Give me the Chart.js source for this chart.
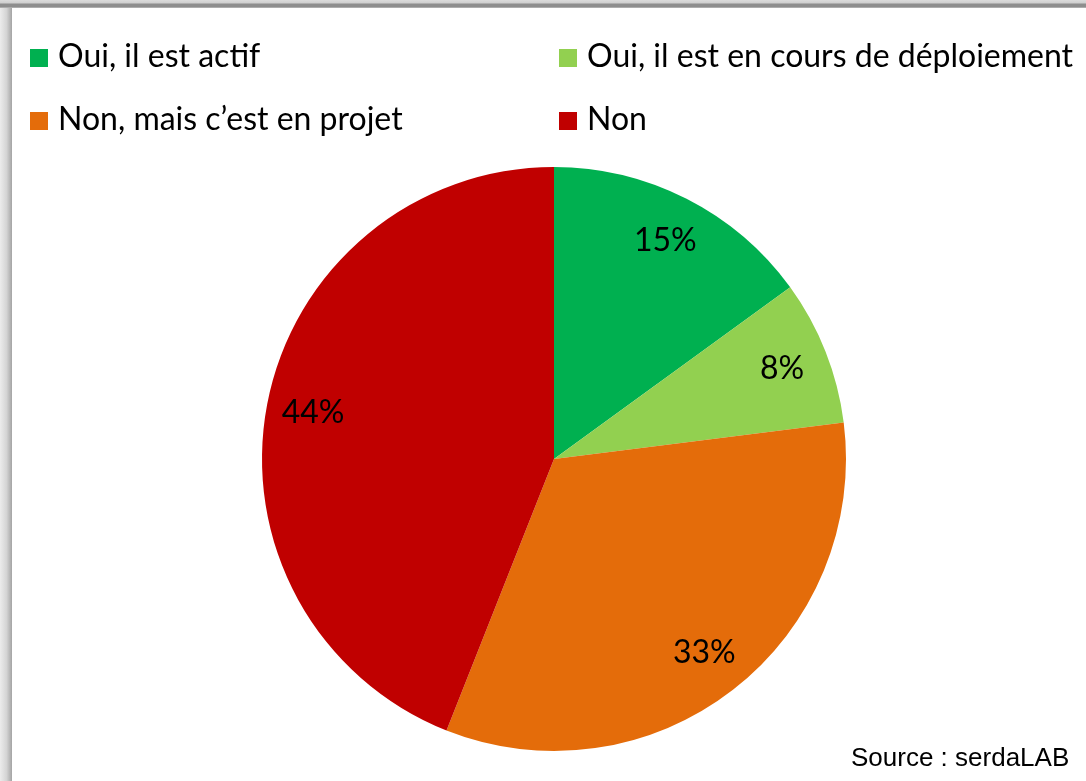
<!DOCTYPE html>
<html>
<head>
<meta charset="utf-8">
<script src="https://cdn.jsdelivr.net/npm/chart.js@4.4.1/dist/chart.umd.min.js"></script>
<style>
    html, body {
        margin: 0;
        padding: 0;
        width: 1086px;
        height: 781px;
        overflow: hidden;
        background: #fff;
    }
    #shadow-left {
        position: absolute;
        left: 0; top: 0;
        width: 12px; height: 781px;
        background: linear-gradient(to right, #ececec, #d4d4d4 55%, #a4a4a4);
    }
    #shadow-top {
        position: absolute;
        left: 0; top: 0;
        width: 1086px; height: 8px;
        background: linear-gradient(to bottom, #dcdcdc 0, #cfcfcf 3px, #8e8e8e 4px, #8e8e8e 7px, #cccccc 8px);
    }
    #chart-wrap {
        position: absolute;
        left: 0; top: 0;
        width: 1086px; height: 781px;
    }
    #legend {
        position: absolute;
        left: 0; top: 0;
        font-family: Lato, "Open Sans", sans-serif;
        font-size: 32px;
        color: #000;
    }
    .legend-item {
        position: absolute;
        white-space: nowrap;
        line-height: 1;
    }
    .legend-item .box {
        position: absolute;
        left: 0;
        top: 1px;
        width: 18px;
        height: 18px;
    }
    .legend-item .txt {
        position: absolute;
        left: 28px;
        top: -9px;
    }
    #source {
        position: absolute;
        left: 851px;
        top: 744px;
        font-family: "Liberation Sans", Arial, sans-serif;
        font-size: 26px;
        line-height: 1;
        color: #000;
    }
</style>
</head>
<body>
<div id="chart-wrap"><canvas id="pieChart" width="1086" height="781"></canvas></div>
<div id="shadow-left"></div>
<div id="shadow-top"></div>
<div id="legend"></div>
<div id="source">Source : serdaLAB</div>

<script>
// Data
const categories = [
    'Oui, il est actif',
    'Oui, il est en cours de déploiement',
    'Non, mais c\u2019est en projet',
    'Non'
];
const shares = [15, 8, 33, 44];
const sliceColors = ['#00B050', '#92D050', '#E46C0A', '#C00000'];

// Legend positions (two columns, two rows)
const legendPos = [
    { x: 30, y: 48 },
    { x: 559, y: 48 },
    { x: 30, y: 111 },
    { x: 559, y: 111 }
];

const legend = document.getElementById('legend');
categories.forEach((label, i) => {
    const item = document.createElement('div');
    item.className = 'legend-item';
    item.style.left = legendPos[i].x + 'px';
    item.style.top = legendPos[i].y + 'px';
    item.innerHTML = '<span class="box" style="background:' + sliceColors[i] + '"></span><span class="txt"></span>';
    item.querySelector('.txt').textContent = label;
    legend.appendChild(item);
});

// Draw the percentage labels inside each slice
const sliceLabels = {
    id: 'sliceLabels',
    afterDatasetsDraw(chart) {
        const ctx = chart.ctx;
        const meta = chart.getDatasetMeta(0);
        ctx.save();
        ctx.font = '32px Lato, "Open Sans", sans-serif';
        ctx.fillStyle = '#000';
        ctx.textAlign = 'center';
        ctx.textBaseline = 'middle';
        meta.data.forEach((arc, i) => {
            const p = arc.getProps(['x', 'y', 'startAngle', 'endAngle', 'outerRadius']);
            const mid = (p.startAngle + p.endAngle) / 2;
            const r = p.outerRadius * 0.84;
            ctx.fillText(shares[i] + '%', p.x + Math.cos(mid) * r, p.y + Math.sin(mid) * r);
        });
        ctx.restore();
    }
};

const ctx = document.getElementById('pieChart').getContext('2d');
const pieChart = new Chart(ctx, {
    type: 'pie',
    data: {
        labels: categories,
        datasets: [{
            data: shares,
            backgroundColor: sliceColors,
            borderWidth: 0
        }]
    },
    options: {
        responsive: false,
        animation: false,
        layout: {
            padding: { left: 262, right: 240, top: 167, bottom: 30 }
        },
        plugins: {
            legend: { display: false },
            tooltip: { enabled: false }
        }
    },
    plugins: [sliceLabels]
});
</script>
</body>
</html>
